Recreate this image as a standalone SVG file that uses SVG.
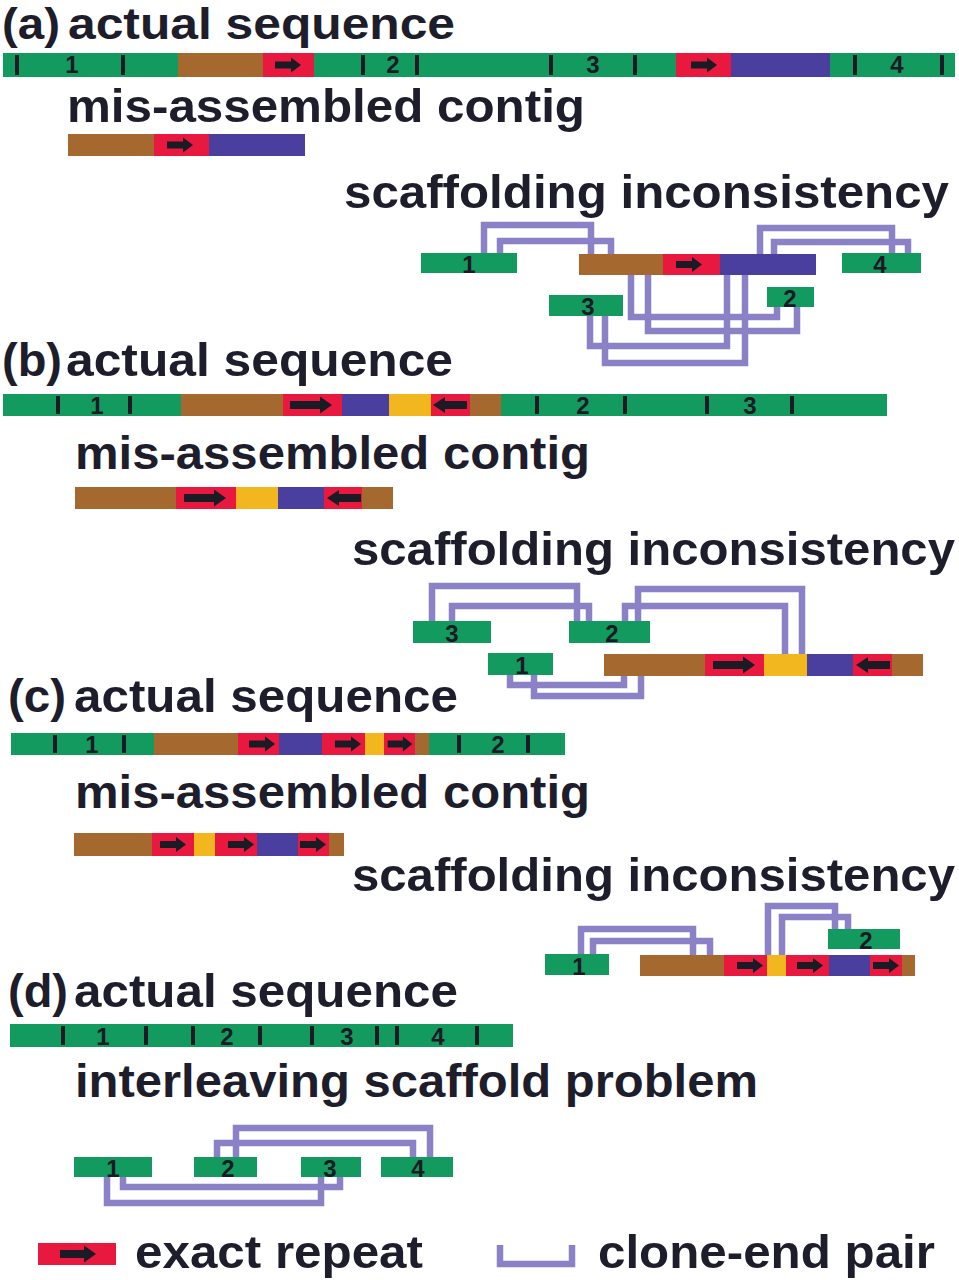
<svg xmlns="http://www.w3.org/2000/svg" xmlns:xlink="http://www.w3.org/1999/xlink" width="959" height="1280" viewBox="0 0 959 1280">
<style>
.g{fill:#139a5e}.br{fill:#a5692f}.r{fill:#e8183e}.b{fill:#4a3f9f}.y{fill:#f2b71e}
.tk{fill:#1b1b25}
.ar{fill:#1b1b25}
.ce{fill:none;stroke:#8a81c7;stroke-width:6.5;stroke-linejoin:miter;stroke-linecap:butt}
.h{font-family:"Liberation Sans",Arial,sans-serif;font-weight:bold;font-size:47px;fill:#1d1d2b}
.n{font-family:"Liberation Sans",Arial,sans-serif;font-weight:bold;font-size:24px;fill:#1b1b25;text-anchor:middle}
</style>
<defs>
<path id="a26" d="M-13,-3.5 H3 V-7.5 L13,0 L3,7.5 V3.5 H-13 Z"/>
<path id="a42" d="M-21,-4 H9 V-8.5 L21,0 L9,8.5 V4 H-21 Z"/>
<path id="a34" d="M-17,-4 H5 V-8 L17,0 L5,8 V4 H-17 Z"/>
<path id="a36" d="M-18,-4 H6 V-8.5 L18,0 L6,8.5 V4 H-18 Z"/>
</defs>
<rect width="959" height="1280" fill="#ffffff"/>

<g id="labels">
<text class="h" y="39" style="font-size:45px"><tspan x="2" textLength="58" lengthAdjust="spacingAndGlyphs">(a)</tspan><tspan x="68" textLength="387" lengthAdjust="spacingAndGlyphs">actual sequence</tspan></text>
<text class="h" x="67" y="122" textLength="518" lengthAdjust="spacingAndGlyphs">mis-assembled contig</text>
<text class="h" x="344" y="208" textLength="605" lengthAdjust="spacingAndGlyphs">scaffolding inconsistency</text>
<text class="h" y="376"><tspan x="2" textLength="60" lengthAdjust="spacingAndGlyphs">(b)</tspan><tspan x="66" textLength="387" lengthAdjust="spacingAndGlyphs">actual sequence</tspan></text>
<text class="h" x="75" y="469" textLength="515" lengthAdjust="spacingAndGlyphs">mis-assembled contig</text>
<text class="h" x="352" y="565" textLength="603" lengthAdjust="spacingAndGlyphs">scaffolding inconsistency</text>
<text class="h" y="712"><tspan x="8" textLength="58" lengthAdjust="spacingAndGlyphs">(c)</tspan><tspan x="74" textLength="384" lengthAdjust="spacingAndGlyphs">actual sequence</tspan></text>
<text class="h" x="75" y="808" textLength="515" lengthAdjust="spacingAndGlyphs">mis-assembled contig</text>
<text class="h" x="352" y="891" textLength="603" lengthAdjust="spacingAndGlyphs">scaffolding inconsistency</text>
<text class="h" y="1007"><tspan x="8" textLength="60" lengthAdjust="spacingAndGlyphs">(d)</tspan><tspan x="74" textLength="384" lengthAdjust="spacingAndGlyphs">actual sequence</tspan></text>
<text class="h" x="75" y="1097" textLength="683" lengthAdjust="spacingAndGlyphs">interleaving scaffold problem</text>
</g>

<g id="connectors">
<path class="ce" d="M484,253 V225 H591 V254"/>
<path class="ce" d="M500,253 V241 H611 V254"/>
<path class="ce" d="M760,254 V228 H892 V253"/>
<path class="ce" d="M774,254 V242 H908 V253"/>
<path class="ce" d="M631,275 V317 H777 V307"/>
<path class="ce" d="M648,275 V331 H797 V307"/>
<path class="ce" d="M590,316 V346 H727 V275"/>
<path class="ce" d="M605,316 V363 H745 V275"/>

<path class="ce" d="M432,621 V586 H577 V621"/>
<path class="ce" d="M452,621 V606 H589 V621"/>
<path class="ce" d="M638,621 V589 H802 V654"/>
<path class="ce" d="M625,621 V606 H785 V654"/>
<path class="ce" d="M510,675 V685 H624 V676"/>
<path class="ce" d="M534,675 V696 H641 V676"/>

<path class="ce" d="M581,954 V929 H693 V955"/>
<path class="ce" d="M593,954 V941 H710 V955"/>
<path class="ce" d="M768,955 V906 H835 V929"/>
<path class="ce" d="M782,955 V917 H848 V929"/>

<path class="ce" d="M236,1157 V1128 H430 V1157"/>
<path class="ce" d="M217,1157 V1143 H413 V1157"/>
<path class="ce" d="M123,1177 V1187 H340 V1177"/>
<path class="ce" d="M107,1177 V1203 H321 V1177"/>
</g>

<g id="a-actual">
<rect class="g" x="3" y="53" width="175" height="24"/>
<rect class="br" x="178" y="53" width="85" height="24"/>
<rect class="r" x="263" y="53" width="51" height="24"/>
<rect class="g" x="314" y="53" width="362" height="24"/>
<rect class="r" x="676" y="53" width="55" height="24"/>
<rect class="b" x="731" y="53" width="99" height="24"/>
<rect class="g" x="830" y="53" width="125" height="24"/>
<rect class="tk" x="15" y="55" width="4" height="20"/>
<rect class="tk" x="121" y="55" width="4" height="20"/>
<rect class="tk" x="361" y="55" width="4" height="20"/>
<rect class="tk" x="415" y="55" width="4" height="20"/>
<rect class="tk" x="549" y="55" width="4" height="20"/>
<rect class="tk" x="633" y="55" width="4" height="20"/>
<rect class="tk" x="853" y="55" width="4" height="20"/>
<rect class="tk" x="940" y="55" width="4" height="20"/>
<use href="#a26" class="ar" transform="translate(288,65)"/>
<use href="#a26" class="ar" transform="translate(704,65)"/>
<text class="n" x="72" y="73">1</text>
<text class="n" x="393" y="73">2</text>
<text class="n" x="593" y="73">3</text>
<text class="n" x="897" y="73">4</text>
</g>

<g id="a-contig">
<rect class="br" x="68" y="134" width="86" height="22"/>
<rect class="r" x="154" y="134" width="55" height="22"/>
<rect class="b" x="209" y="134" width="96" height="22"/>
<use href="#a26" class="ar" transform="translate(180,145)"/>
</g>

<g id="a-scaffold-main">
<rect class="br" x="579" y="254" width="84" height="21"/>
<rect class="r" x="663" y="254" width="57" height="21"/>
<rect class="b" x="720" y="254" width="96" height="21"/>
<use href="#a26" class="ar" transform="translate(689,264.5)"/>
</g>
<g id="a-c1"><rect class="g" x="421" y="253" width="96" height="20"/><text class="n" x="469" y="273">1</text></g>
<g id="a-c4"><rect class="g" x="842" y="253" width="79" height="20"/><text class="n" x="880" y="273">4</text></g>
<g id="a-c2"><rect class="g" x="767" y="287" width="47" height="20"/><text class="n" x="790" y="307">2</text></g>
<g id="a-c3"><rect class="g" x="549" y="295" width="74" height="21"/><text class="n" x="588" y="315">3</text></g>

<g id="b-actual">
<rect class="g" x="3" y="394" width="178" height="22"/>
<rect class="br" x="181" y="394" width="102" height="22"/>
<rect class="r" x="283" y="394" width="59" height="22"/>
<rect class="b" x="342" y="394" width="47" height="22"/>
<rect class="y" x="389" y="394" width="42" height="22"/>
<rect class="r" x="431" y="394" width="39" height="22"/>
<rect class="br" x="470" y="394" width="31" height="22"/>
<rect class="g" x="501" y="394" width="386" height="22"/>
<rect class="tk" x="56" y="396" width="4" height="18"/>
<rect class="tk" x="128" y="396" width="4" height="18"/>
<rect class="tk" x="535" y="396" width="4" height="18"/>
<rect class="tk" x="623" y="396" width="4" height="18"/>
<rect class="tk" x="705" y="396" width="4" height="18"/>
<rect class="tk" x="790" y="396" width="4" height="18"/>
<use href="#a42" class="ar" transform="translate(311,405)"/>
<use href="#a34" class="ar" transform="translate(450,405) scale(-1,1)"/>
<text class="n" x="97" y="414">1</text>
<text class="n" x="583" y="414">2</text>
<text class="n" x="750" y="414">3</text>
</g>

<g id="b-contig">
<rect class="br" x="75" y="487" width="101" height="22"/>
<rect class="r" x="176" y="487" width="60" height="22"/>
<rect class="y" x="236" y="487" width="42" height="22"/>
<rect class="b" x="278" y="487" width="46" height="22"/>
<rect class="r" x="324" y="487" width="38" height="22"/>
<rect class="br" x="362" y="487" width="31" height="22"/>
<use href="#a42" class="ar" transform="translate(205,498)"/>
<use href="#a34" class="ar" transform="translate(344,498) scale(-1,1)"/>
</g>

<g id="b-scaffold-main">
<rect class="br" x="604" y="654" width="101" height="22"/>
<rect class="r" x="705" y="654" width="59" height="22"/>
<rect class="y" x="764" y="654" width="43" height="22"/>
<rect class="b" x="807" y="654" width="46" height="22"/>
<rect class="r" x="853" y="654" width="39" height="22"/>
<rect class="br" x="892" y="654" width="31" height="22"/>
<use href="#a42" class="ar" transform="translate(734,665)"/>
<use href="#a34" class="ar" transform="translate(873,665) scale(-1,1)"/>
</g>
<g id="b-c3"><rect class="g" x="413" y="621" width="78" height="22"/><text class="n" x="452" y="642">3</text></g>
<g id="b-c2"><rect class="g" x="569" y="621" width="81" height="22"/><text class="n" x="612" y="642">2</text></g>
<g id="b-c1"><rect class="g" x="488" y="653" width="65" height="22"/><text class="n" x="522" y="674">1</text></g>

<g id="c-actual">
<rect class="g" x="11" y="733" width="143" height="22"/>
<rect class="br" x="154" y="733" width="84" height="22"/>
<rect class="r" x="238" y="733" width="41" height="22"/>
<rect class="b" x="279" y="733" width="43" height="22"/>
<rect class="r" x="322" y="733" width="43" height="22"/>
<rect class="y" x="365" y="733" width="19" height="22"/>
<rect class="r" x="384" y="733" width="31" height="22"/>
<rect class="br" x="415" y="733" width="14" height="22"/>
<rect class="g" x="429" y="733" width="136" height="22"/>
<rect class="tk" x="53" y="735" width="4" height="18"/>
<rect class="tk" x="122" y="735" width="4" height="18"/>
<rect class="tk" x="457" y="735" width="4" height="18"/>
<rect class="tk" x="526" y="735" width="4" height="18"/>
<use href="#a26" class="ar" transform="translate(262,744)"/>
<use href="#a26" class="ar" transform="translate(348,744)"/>
<use href="#a26" class="ar" transform="translate(400,744) scale(0.95,1)"/>
<text class="n" x="92" y="753">1</text>
<text class="n" x="498" y="753">2</text>
</g>

<g id="c-contig">
<rect class="br" x="74" y="833" width="78" height="23"/>
<rect class="r" x="152" y="833" width="42" height="23"/>
<rect class="y" x="194" y="833" width="21" height="23"/>
<rect class="r" x="215" y="833" width="42" height="23"/>
<rect class="b" x="257" y="833" width="41" height="23"/>
<rect class="r" x="298" y="833" width="31" height="23"/>
<rect class="br" x="329" y="833" width="15" height="23"/>
<use href="#a26" class="ar" transform="translate(173,844.5)"/>
<use href="#a26" class="ar" transform="translate(241,844.5)"/>
<use href="#a26" class="ar" transform="translate(313,844.5)"/>
</g>

<g id="c-scaffold-main">
<rect class="br" x="640" y="955" width="84" height="21"/>
<rect class="r" x="724" y="955" width="43" height="21"/>
<rect class="y" x="767" y="955" width="19" height="21"/>
<rect class="r" x="786" y="955" width="43" height="21"/>
<rect class="b" x="829" y="955" width="41" height="21"/>
<rect class="r" x="870" y="955" width="32" height="21"/>
<rect class="br" x="902" y="955" width="13" height="21"/>
<use href="#a26" class="ar" transform="translate(750,965.5)"/>
<use href="#a26" class="ar" transform="translate(810,965.5)"/>
<use href="#a26" class="ar" transform="translate(886,965.5)"/>
</g>
<g id="c-c1"><rect class="g" x="545" y="954" width="64" height="21"/><text class="n" x="579" y="975">1</text></g>
<g id="c-c2"><rect class="g" x="828" y="929" width="72" height="20"/><text class="n" x="866" y="949">2</text></g>

<g id="d-actual">
<rect class="g" x="10" y="1024" width="503" height="23"/>
<rect class="tk" x="61" y="1026" width="4" height="19"/>
<rect class="tk" x="144" y="1026" width="4" height="19"/>
<rect class="tk" x="191" y="1026" width="4" height="19"/>
<rect class="tk" x="258" y="1026" width="4" height="19"/>
<rect class="tk" x="310" y="1026" width="4" height="19"/>
<rect class="tk" x="375" y="1026" width="4" height="19"/>
<rect class="tk" x="395" y="1026" width="4" height="19"/>
<rect class="tk" x="475" y="1026" width="4" height="19"/>
<text class="n" x="103" y="1045">1</text>
<text class="n" x="227" y="1045">2</text>
<text class="n" x="347" y="1045">3</text>
<text class="n" x="438" y="1045">4</text>
</g>
<g id="d-c1"><rect class="g" x="74" y="1157" width="78" height="20"/><text class="n" x="113" y="1177">1</text></g>
<g id="d-c2"><rect class="g" x="194" y="1157" width="63" height="20"/><text class="n" x="228" y="1177">2</text></g>
<g id="d-c3"><rect class="g" x="301" y="1157" width="60" height="20"/><text class="n" x="330" y="1177">3</text></g>
<g id="d-c4"><rect class="g" x="381" y="1157" width="72" height="20"/><text class="n" x="418" y="1177">4</text></g>

<g id="legend-repeat">
<rect class="r" x="38" y="1243" width="78" height="22"/>
<use href="#a36" class="ar" transform="translate(78,1254)"/>
<text class="h" x="135" y="1268" textLength="288" lengthAdjust="spacingAndGlyphs">exact repeat</text>
</g>
<g id="legend-clone">
<path class="ce" d="M500,1245 V1264 H572 V1245"/>
<text class="h" x="598" y="1268" textLength="337" lengthAdjust="spacingAndGlyphs">clone-end pair</text>
</g>
</svg>
